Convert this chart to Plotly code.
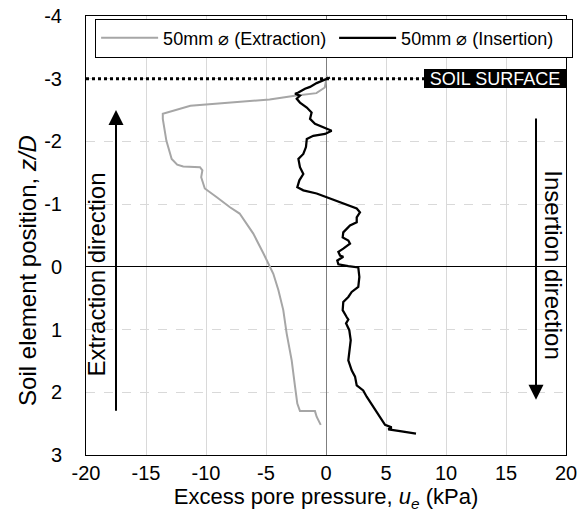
import plotly.graph_objects as go

# ---- data ----
extraction_u = [0.08, -0.1, -0.8, -2.6, -4.7, -7.2, -11.3, -13.6, -13.6, -13.3, -12.86, -12.4, -11.9,
                -10.5, -10.3, -10.4, -10.1, -9.1, -8.0, -7.2, -6.06, -5.2, -4.94, -4.39, -3.97,
                -3.56, -3.28, -2.86, -2.58, -2.39, -2.17, -0.92, -0.78, -0.44]
extraction_z = [-3.05, -2.86, -2.77, -2.73, -2.67, -2.63, -2.57, -2.44, -2.36, -2.01, -1.72, -1.63, -1.60,
                -1.59, -1.54, -1.43, -1.25, -1.11, -0.95, -0.85, -0.53, -0.21, -0.10, 0.11, 0.37,
                0.69, 1.06, 1.49, 1.91, 2.18, 2.30, 2.30, 2.39, 2.52]

insertion_u = [0.33, -0.78, -1.33, -1.75, -2.3, -2.58, -2.17, -2.44, -2.17, -1.6, -1.2, -1.33, -0.92,
               -0.22, 0.47, -0.08, -1.06, -1.6, -1.67, -1.89, -2.3, -2.17, -1.89, -2.22, -2.39,
               -1.89, -0.78, 0.06, 1.17, 2.56, 2.83, 2.56, 2.56, 2.0, 1.44, 1.39, 1.86, 2.0, 1.44,
               1.03, 1.17, 1.44, 0.94, 1.03, 1.86, 2.69, 2.78, 2.69, 2.14, 1.86, 1.44, 1.39, 1.72,
               1.86, 1.67, 1.94, 2.06, 1.94, 1.86, 2.14, 2.42, 2.56, 3.1, 3.39, 3.94, 4.36, 4.64,
               4.92, 5.47, 5.19, 6.17, 7.5]
insertion_z = [-3.02, -2.93, -2.87, -2.84, -2.78, -2.76, -2.73, -2.68, -2.62, -2.54, -2.46, -2.36, -2.28,
               -2.23, -2.17, -2.12, -2.09, -2.04, -1.91, -1.80, -1.72, -1.59, -1.48, -1.38, -1.27,
               -1.22, -1.17, -1.11, -1.03, -0.93, -0.87, -0.79, -0.71, -0.66, -0.55, -0.47, -0.42, -0.37, -0.29,
               -0.24, -0.18, -0.16, -0.10, -0.04, -0.01, 0.01, 0.16, 0.32, 0.40, 0.48, 0.56, 0.69, 0.80,
               0.84, 0.90, 1.01, 1.17, 1.33, 1.49, 1.65, 1.75, 1.89, 1.97, 2.07, 2.23, 2.34, 2.44,
               2.52, 2.56, 2.59, 2.62, 2.66]

x_ticks = [-20, -15, -10, -5, 0, 5, 10, 15, 20]
y_ticks = [-4, -3, -2, -1, 0, 1, 2, 3]
soil_surface_z = -3
extraction_arrow = {"x": -17.5, "z_from": 2.32, "z_to": -2.5}
insertion_arrow = {"x": 17.5, "z_from": -2.39, "z_to": 2.12}

FONT = "Liberation Sans, Arial, sans-serif"

fig = go.Figure()
fig.add_trace(go.Scatter(x=extraction_u, y=extraction_z, mode="lines",
                         name="50mm ⌀ (Extraction)",
                         line=dict(color="#a6a6a6", width=2)))
fig.add_trace(go.Scatter(x=insertion_u, y=insertion_z, mode="lines",
                         name="50mm ⌀ (Insertion)",
                         line=dict(color="#000000", width=2.25)))

# soil surface dotted line
fig.add_shape(type="line", xref="x", yref="y", x0=-20, x1=20, y0=soil_surface_z, y1=soil_surface_z,
              line=dict(color="black", width=3, dash="dot"), layer="above")

annotations = [
    dict(x=20, y=soil_surface_z, xref="x", yref="y", xanchor="right", yanchor="middle",
         text="SOIL SURFACE", showarrow=False, bgcolor="black", width=142, height=19,
         font=dict(family=FONT, size=18, color="white"), borderpad=0, borderwidth=0),
    dict(x=extraction_arrow["x"], y=extraction_arrow["z_to"], ax=extraction_arrow["x"],
         ay=extraction_arrow["z_from"], xref="x", yref="y", axref="x", ayref="y",
         text="", showarrow=True, arrowhead=2, arrowsize=1.5, arrowwidth=2, arrowcolor="black"),
    dict(x=insertion_arrow["x"], y=insertion_arrow["z_to"], ax=insertion_arrow["x"],
         ay=insertion_arrow["z_from"], xref="x", yref="y", axref="x", ayref="y",
         text="", showarrow=True, arrowhead=2, arrowsize=1.5, arrowwidth=2, arrowcolor="black"),
    dict(x=-19.2, y=0.13, xref="x", yref="y", text="Extraction direction", textangle=-90,
         showarrow=False, font=dict(family=FONT, size=24, color="black")),
    dict(x=19.0, y=-0.04, xref="x", yref="y", text="Insertion direction", textangle=90,
         showarrow=False, font=dict(family=FONT, size=24, color="black")),
    # y-axis title
    dict(x=-0.121, y=0.05, xref="paper", yref="y", xanchor="center", yanchor="middle",
         text="Soil element position, <i>z/D</i>",
         textangle=-90, showarrow=False, font=dict(family=FONT, size=24, color="black")),
]

fig.update_layout(
    width=580, height=521,
    margin=dict(l=86, r=14, t=16, b=66, autoexpand=False),
    paper_bgcolor="white", plot_bgcolor="white",
    font=dict(family=FONT, size=20, color="black"),
    showlegend=True,
    legend=dict(orientation="h", x=0.019, y=0.994, xanchor="left", yanchor="top",
                bgcolor="white", bordercolor="black", borderwidth=1,
                font=dict(family=FONT, size=18), itemwidth=57, entrywidth=166),
    annotations=annotations,
)

fig.update_xaxes(range=[-20, 20], tickvals=x_ticks, ticktext=[str(v) for v in x_ticks],
                 showgrid=True, gridcolor="#d9d9d9", gridwidth=1,
                 zeroline=True, zerolinecolor="#7f7f7f", zerolinewidth=1,
                 showline=True, linecolor="black", linewidth=1, mirror=True, ticks="",
                 tickfont=dict(size=20), automargin=False, ticklabeloverflow="allow",
                 title=dict(text="Excess pore pressure, <i>u<sub>e</sub></i> (kPa)",
                            font=dict(size=22), standoff=4))
fig.update_yaxes(range=[3, -4], tickvals=y_ticks, ticktext=[str(v) for v in y_ticks],
                 showgrid=True, gridcolor="#d9d9d9", gridwidth=1, griddash="dash",
                 zeroline=True, zerolinecolor="black", zerolinewidth=1,
                 showline=True, linecolor="black", linewidth=1, mirror=True, ticks="",
                 tickfont=dict(size=20), ticklabelstandoff=19, automargin=False,
                 ticklabeloverflow="allow")

# remove the browser's default 8px body margin so the figure sits at the page origin
fig.write_html("out.html", config={"displayModeBar": False},
               post_script="document.body.style.margin='0px';")
